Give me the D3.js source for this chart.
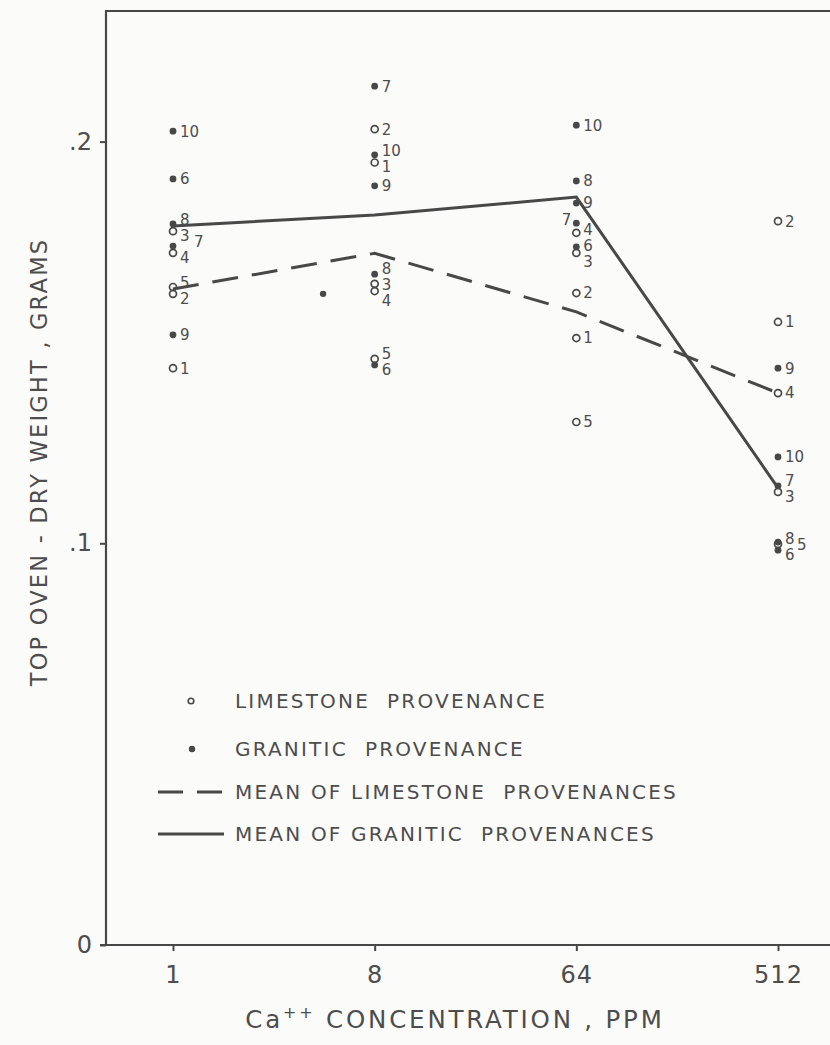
<!DOCTYPE html>
<html>
<head>
<meta charset="utf-8">
<script src="https://cdn.jsdelivr.net/npm/d3@7"></script>
<style>
  html, body { margin: 0; padding: 0; background: #fbfbf9; }
  svg { display: block; }
  text { font-family: "DejaVu Sans", sans-serif; fill: #4d4d4d; }
</style>
</head>
<body>
<svg id="chart" width="830" height="1045"></svg>
<script>
// Ca++ concentrations in the nutrient solution (ppm)
const concentrations = [1, 8, 64, 512];
const tickLabels = ["1", "8", "64", "512"];
const yTicks = [0, 0.1, 0.2];

// Seed provenances: 1-5 limestone, 6-10 granitic
const provenances = [1, 2, 3, 4, 5, 6, 7, 8, 9, 10];
const limestone = [1, 2, 3, 4, 5];
const granitic = [6, 7, 8, 9, 10];

// Top oven-dry weight (g), listed for provenances 1..10
const weightAt1   = [0.1436, 0.1621, 0.1777, 0.1723, 0.1638, 0.1907, 0.1740, 0.1795, 0.1519, 0.2026];
const weightAt8   = [0.1948, 0.2031, 0.1646, 0.1628, 0.1459, 0.1444, 0.2138, 0.1670, 0.1890, 0.1967];
const weightAt64  = [0.1511, 0.1623, 0.1723, 0.1773, 0.1302, 0.1738, 0.1797, 0.1902, 0.1847, 0.2041];
const weightAt512 = [0.1551, 0.1802, 0.1128, 0.1374, 0.0998, 0.0983, 0.1143, 0.1003, 0.1436, 0.1215];

// Group means
const limestoneMean = [0.1633, 0.1722, 0.1576, 0.1374];
const graniticMean  = [0.1790, 0.1817, 0.1862, 0.1138];

// Unnumbered granitic mark plotted between 1 and 8 ppm: [ppm, weight]
const strayPoint = [4.7, 0.1621];

const W = 830, H = 1045;
const frame = { left: 106, top: 11, bottom: 945, right: 832 };
const ink = "#484848";
const fontStack = '"DejaVu Sans", sans-serif';

const svg = d3.select("#chart");
svg.append("rect").attr("width", W).attr("height", H).attr("fill", "#fbfbf9");

const x = d3.scaleLog().base(2).domain([1, 512]).range([173, 778]);
const y = d3.scaleLinear().domain([0, 0.2]).range([frame.bottom, 141.6]);

// Frame (top and left edges)
svg.append("path")
  .attr("d", `M${frame.left},${frame.bottom} V${frame.top} H${frame.right}`)
  .attr("fill", "none").attr("stroke", ink).attr("stroke-width", 2.2);

// Y axis
const yAxis = svg.append("g")
  .attr("transform", `translate(${frame.left},0)`)
  .call(d3.axisLeft(y).tickValues(yTicks).tickSize(6).tickPadding(8)
    .tickFormat(d => d === 0 ? "0" : d3.format(".1f")(d).replace(/^0/, "")));
yAxis.select(".domain").remove();
yAxis.selectAll("line").attr("stroke", ink).attr("stroke-width", 2);
yAxis.selectAll("text").attr("font-size", 24).attr("fill", "#4d4d4d")
  .style("font-family", fontStack);

// X axis
const xAxis = svg.append("g")
  .attr("transform", `translate(0,${frame.bottom})`)
  .call(d3.axisBottom(x).tickValues(concentrations).tickSize(6).tickPadding(15)
    .tickFormat((d, i) => tickLabels[i]));
xAxis.select(".domain").remove();
xAxis.selectAll("line").attr("stroke", ink).attr("stroke-width", 2);
xAxis.selectAll("text").attr("font-size", 24).attr("letter-spacing", 1).attr("fill", "#4d4d4d")
  .style("font-family", fontStack);
svg.append("line")
  .attr("x1", frame.left - 6).attr("x2", frame.right)
  .attr("y1", frame.bottom).attr("y2", frame.bottom)
  .attr("stroke", ink).attr("stroke-width", 2.2);

// Axis titles
svg.append("text")
  .attr("transform", "translate(47,462) rotate(-90)")
  .attr("text-anchor", "middle")
  .attr("font-size", 22.5).attr("letter-spacing", 2.2)
  .text("TOP OVEN - DRY WEIGHT , GRAMS");

const xt = svg.append("text")
  .attr("x", 455).attr("y", 1028)
  .attr("text-anchor", "middle")
  .attr("font-size", 24.5).attr("letter-spacing", 2.8);
xt.append("tspan").text("Ca");
xt.append("tspan").attr("font-size", 16).attr("dy", -10).text("++");
xt.append("tspan").attr("dy", 10).text(" CONCENTRATION , PPM");

// Mean lines
const meanLine = d3.line().x((d, i) => x(concentrations[i])).y(d => y(d));
svg.append("path").datum(limestoneMean)
  .attr("d", meanLine).attr("fill", "none")
  .attr("stroke", ink).attr("stroke-width", 3)
  .attr("stroke-dasharray", "26,14");
svg.append("path").datum(graniticMean)
  .attr("d", meanLine).attr("fill", "none")
  .attr("stroke", ink).attr("stroke-width", 3);

// Individual provenances
const series = [weightAt1, weightAt8, weightAt64, weightAt512];
const columns = concentrations.map((c, i) =>
  provenances.map((p, j) => ({
    ppm: c, id: p, w: series[i][j],
    kind: limestone.includes(p) ? "lime" : "gran",
    x: x(c), y: y(series[i][j])
  })));

// Label layout: marks closer than 9.5px share a stacked label pair (super/subscript)
const leftLabelled = new Set(["64-7"]);
const half = 8;
const minGap = 16;
function layoutLabels(pts) {
  const rest = [];
  pts.forEach(d => {
    if (leftLabelled.has(`${d.ppm}-${d.id}`)) {
      d.lx = d.x - 5; d.ly = d.y - 4; d.anchor = "end";
    } else rest.push(d);
  });
  rest.sort((a, b) => a.y - b.y);
  const clusters = [];
  rest.forEach(d => {
    const last = clusters[clusters.length - 1];
    if (last && d.y - last[last.length - 1].y < 9.5) last.push(d);
    else clusters.push([d]);
  });
  let prev = null;
  clusters.forEach(cl => {
    cl.forEach(d => { d.anchor = "start"; d.lx = d.x + 7; });
    if (cl.length === 1) {
      cl[0].ly = cl[0].y;
      prev = { pt: cl[0], sub: false };
      return;
    }
    const mid = (cl[0].y + cl[cl.length - 1].y) / 2;
    const top = cl[0], bot = cl[cl.length - 1];
    top.ly = mid - half;
    bot.ly = mid + half;
    cl.slice(1, -1).forEach(d => { d.ly = d.y; d.lx += 12; });
    const gap = prev ? top.ly - prev.pt.ly : Infinity;
    if (prev && prev.sub && gap < 10) {
      // superscript would sit on the previous subscript: step it sideways
      top.lx += 14;
    } else if (prev && !prev.sub && gap < minGap) {
      // split the difference between a single label and the stacked pair below it
      const need = (minGap - gap) / 2;
      prev.pt.ly -= need;
      top.ly += need; bot.ly += need;
    }
    prev = { pt: bot, sub: true };
  });
}
columns.forEach(layoutLabels);
const allPoints = columns.flat();

const marks = svg.append("g");
marks.selectAll("circle.lime")
  .data(allPoints.filter(d => d.kind === "lime"))
  .join("circle").attr("class", "lime")
  .attr("cx", d => d.x).attr("cy", d => d.y).attr("r", 3.5)
  .attr("fill", "none").attr("stroke", ink).attr("stroke-width", 1.7);
marks.selectAll("circle.gran")
  .data(allPoints.filter(d => d.kind === "gran"))
  .join("circle").attr("class", "gran")
  .attr("cx", d => d.x).attr("cy", d => d.y).attr("r", 3.4)
  .attr("fill", ink);
marks.append("circle")
  .attr("cx", x(strayPoint[0])).attr("cy", y(strayPoint[1])).attr("r", 3.2)
  .attr("fill", ink);

marks.selectAll("text.num")
  .data(allPoints)
  .join("text").attr("class", "num")
  .attr("x", d => d.lx).attr("y", d => d.ly).attr("dy", "0.36em")
  .attr("text-anchor", d => d.anchor)
  .attr("font-size", 15)
  .text(d => d.id);

// Legend
const legend = svg.append("g");
const rows = [
  { y: 701, label: "LIMESTONE  PROVENANCE", kind: "lime" },
  { y: 749, label: "GRANITIC  PROVENANCE", kind: "gran" },
  { y: 792, label: "MEAN OF LIMESTONE  PROVENANCES", kind: "dash" },
  { y: 834, label: "MEAN OF GRANITIC  PROVENANCES", kind: "solid" }
];
rows.forEach(r => {
  if (r.kind === "lime") {
    legend.append("circle").attr("cx", 191).attr("cy", r.y).attr("r", 2.8)
      .attr("fill", "none").attr("stroke", ink).attr("stroke-width", 1.6);
  } else if (r.kind === "gran") {
    legend.append("circle").attr("cx", 192).attr("cy", r.y).attr("r", 3.2).attr("fill", ink);
  } else {
    legend.append("line").attr("x1", 158).attr("x2", 224)
      .attr("y1", r.y).attr("y2", r.y)
      .attr("stroke", ink).attr("stroke-width", 3)
      .attr("stroke-dasharray", r.kind === "dash" ? "25,14" : null);
  }
  legend.append("text")
    .attr("x", 235).attr("y", r.y).attr("dy", "0.36em")
    .attr("font-size", 20).attr("letter-spacing", 2.2)
    .style("white-space", "pre")
    .text(r.label);
});
</script>
</body>
</html>
